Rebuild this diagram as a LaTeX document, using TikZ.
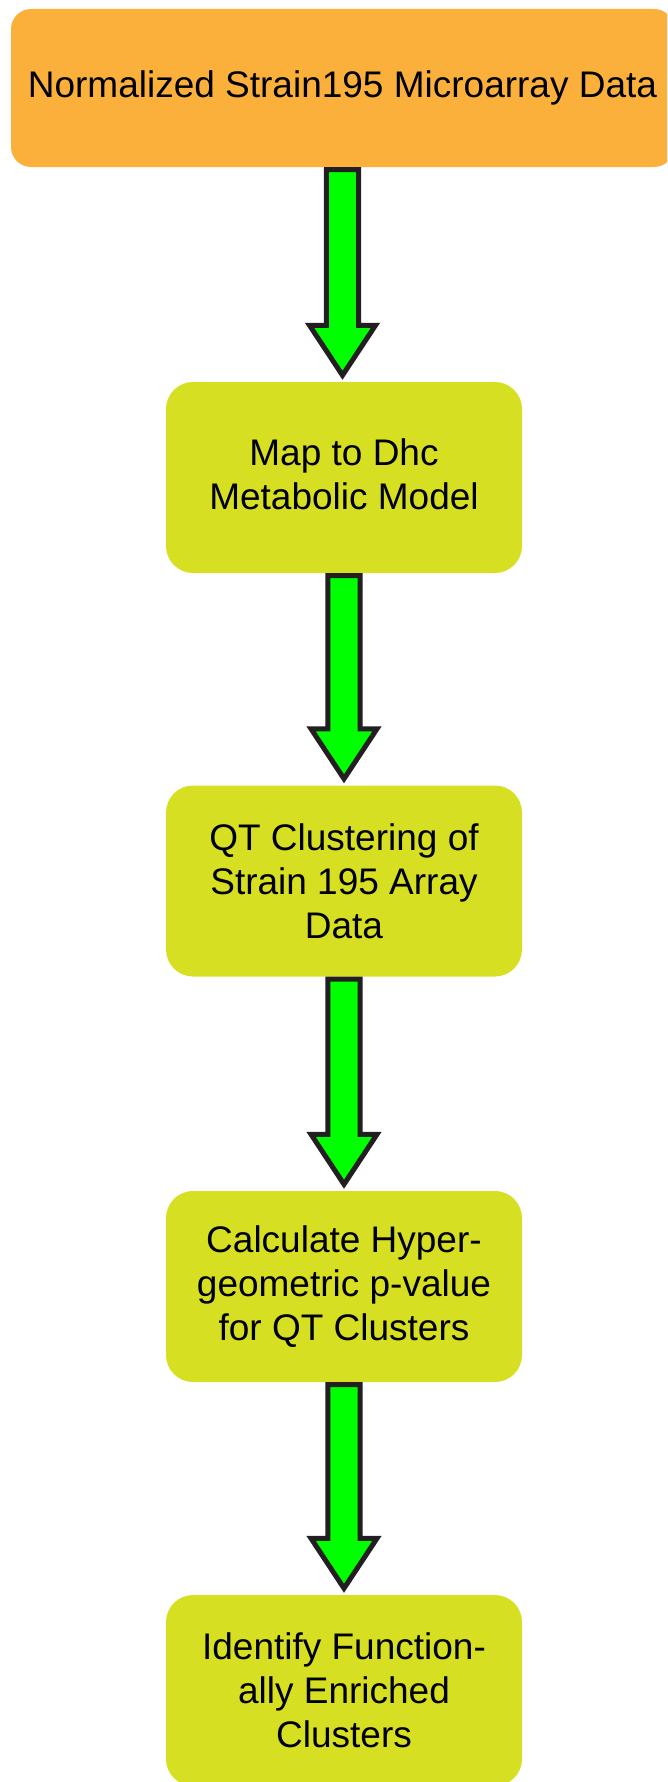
\documentclass[tikz,border=0pt]{standalone}
\usepackage{fontspec}
\setmainfont{Liberation Sans}
\usetikzlibrary{calc}
\definecolor{boxorange}{HTML}{FBB03B}
\definecolor{boxlime}{HTML}{D7DF23}
\definecolor{arrowgreen}{HTML}{00FF00}
\definecolor{arrowline}{HTML}{231F20}
\tikzset{
  labelfont/.style={font=\fontsize{37}{44}\selectfont},
  startbox/.style={fill=boxorange, rounded corners=20pt, minimum width=663pt,
    minimum height=158pt, inner sep=0pt, align=center, labelfont},
  stepbox/.style={fill=boxlime, rounded corners=27pt, minimum width=356pt,
    minimum height=191pt, inner sep=0pt, align=center, labelfont},
  flowarrow/.style={fill=arrowgreen, draw=arrowline, line width=5pt, miter limit=10}
}
% block arrow from the bottom of one box to the top of the next
\newcommand\flowstep[2]{%
  \draw[flowarrow] let \p1=(#1.south), \p2=(#2.north) in
    (\x1-16.2pt,\y1-2.5pt) -- (\x1-16.2pt,\y2+56.5pt) -- (\x1-33pt,\y2+56.5pt)
    -- (\x1,\y2+6.5pt) -- (\x1+33pt,\y2+56.5pt) -- (\x1+16.2pt,\y2+56.5pt)
    -- (\x1+16.2pt,\y1-2.5pt) -- cycle;}
\begin{document}
\begin{tikzpicture}[x=1pt,y=-1pt]
  \useasboundingbox (0,0) rectangle (667,1782);
  \clip (0,0) rectangle (667,1782);
  \node[startbox] (data) at (342.5,88) {Normalized Strain195 Microarray Data};
  \node[stepbox] (map) at (344,477.5) {Map to Dhc\\Metabolic Model\vphantom{p}};
  \node[stepbox] (qt) at (344,881) {QT Clustering of\\Strain 195 Array\\Data};
  \node[stepbox] (hyper) at (344,1286.5) {Calculate Hyper-\\geometric p-value\\for QT Clusters};
  \node[stepbox] (enrich) at (344,1690.5) {Identify Function-\\ally Enriched\\Clusters};
  \flowstep{data}{map}
  \flowstep{map}{qt}
  \flowstep{qt}{hyper}
  \flowstep{hyper}{enrich}
\end{tikzpicture}
\end{document}
